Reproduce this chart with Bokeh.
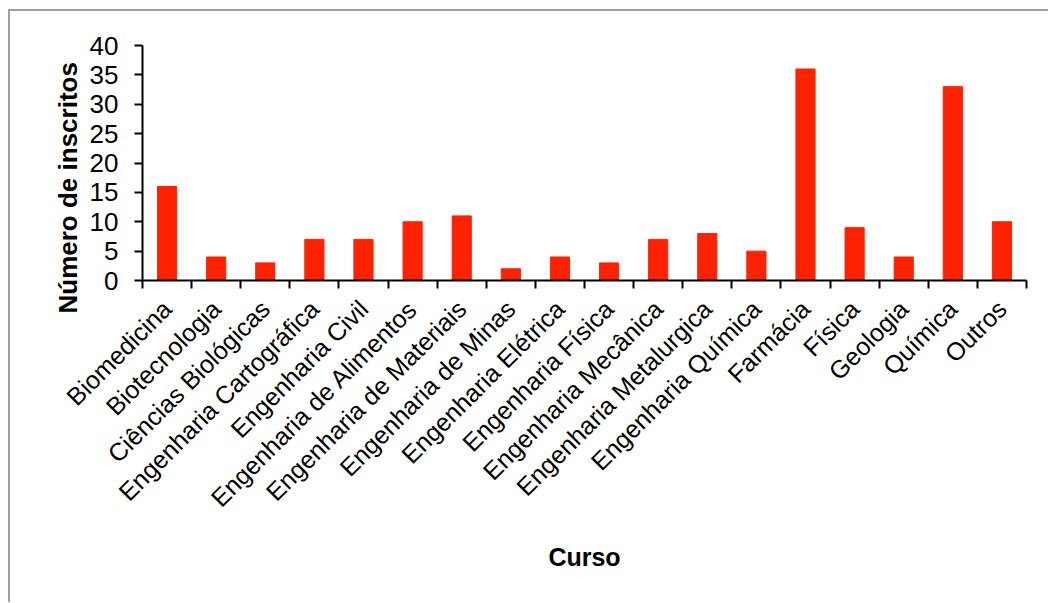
import math
from bokeh.plotting import figure
from bokeh.models import ColumnDataSource, FixedTicker, Range1d, Title
from bokeh.embed import file_html
from bokeh.resources import INLINE

categories = ["Biomedicina", "Biotecnologia", "Ciências Biológicas",
              "Engenharia Cartográfica", "Engenharia Civil",
              "Engenharia de Alimentos", "Engenharia de Materiais",
              "Engenharia de Minas", "Engenharia Elétrica", "Engenharia Física",
              "Engenharia Mecânica", "Engenharia Metalurgica",
              "Engenharia Química", "Farmácia", "Física", "Geologia",
              "Química", "Outros"]
inscritos = [16, 4, 3, 7, 7, 10, 11, 2, 4, 3, 7, 8, 5, 36, 9, 4, 33, 10]
y_ticks = [0, 5, 10, 15, 20, 25, 30, 35, 40]

centers = [i + 0.5 for i in range(len(categories))]
boundaries = list(range(len(categories) + 1))

source = ColumnDataSource(dict(x=centers, top=inscritos, name=categories))

FONT = "Liberation Sans"

p = figure(output_backend="svg", toolbar_location=None,
           frame_width=884, frame_height=235,
           min_border_left=132, min_border_top=34, min_border_right=22,
           min_border_bottom=322,
           x_range=Range1d(0, len(categories)), y_range=Range1d(0, 40),
           margin=(9, 0, 0, 8))
p.styles = {"border-top": "2px solid #a0a0a0", "border-left": "2px solid #a0a0a0"}

p.vbar(x="x", top="top", width=0.39, source=source, color="#FF2200")

p.outline_line_color = None
p.xgrid.grid_line_color = None
p.ygrid.grid_line_color = None
p.background_fill_color = "white"
p.border_fill_color = "white"

# x axis
xa = p.xaxis[0]
xa.ticker = FixedTicker(ticks=centers, minor_ticks=boundaries)
xa.major_label_overrides = {c: n for c, n in zip(centers, categories)}
xa.major_label_orientation = math.pi / 4
xa.major_tick_line_color = None
xa.major_tick_in = 0
xa.major_tick_out = 0
xa.minor_tick_line_color = "black"
xa.minor_tick_line_width = 2
xa.minor_tick_in = 0
xa.minor_tick_out = 8
xa.axis_line_color = "black"
xa.axis_line_width = 2
xa.major_label_text_font = FONT
xa.major_label_text_font_size = "25px"
xa.major_label_text_color = "black"
xa.major_label_standoff = 16
xa.axis_label = "Curso"
xa.axis_label_text_font = FONT
xa.axis_label_text_font_size = "25px"
xa.axis_label_text_font_style = "bold"
xa.axis_label_text_color = "black"
xa.axis_label_standoff = 18

# y axis
ya = p.yaxis[0]
ya.ticker = FixedTicker(ticks=y_ticks)
ya.major_tick_in = 0
ya.major_tick_out = 8
ya.major_tick_line_width = 2
ya.major_tick_line_color = "black"
ya.minor_tick_line_color = None
ya.axis_line_color = "black"
ya.axis_line_width = 2
ya.major_label_text_font = FONT
ya.major_label_text_font_size = "26px"
ya.major_label_text_color = "black"
ya.major_label_standoff = 16

ytitle = Title(text="Número de inscritos", align="left", offset=-33,
               text_font=FONT, text_font_size="26px", text_font_style="bold",
               text_color="black", standoff=8)
p.add_layout(ytitle, "left")

open("out.html", "w").write(file_html(p, INLINE))
